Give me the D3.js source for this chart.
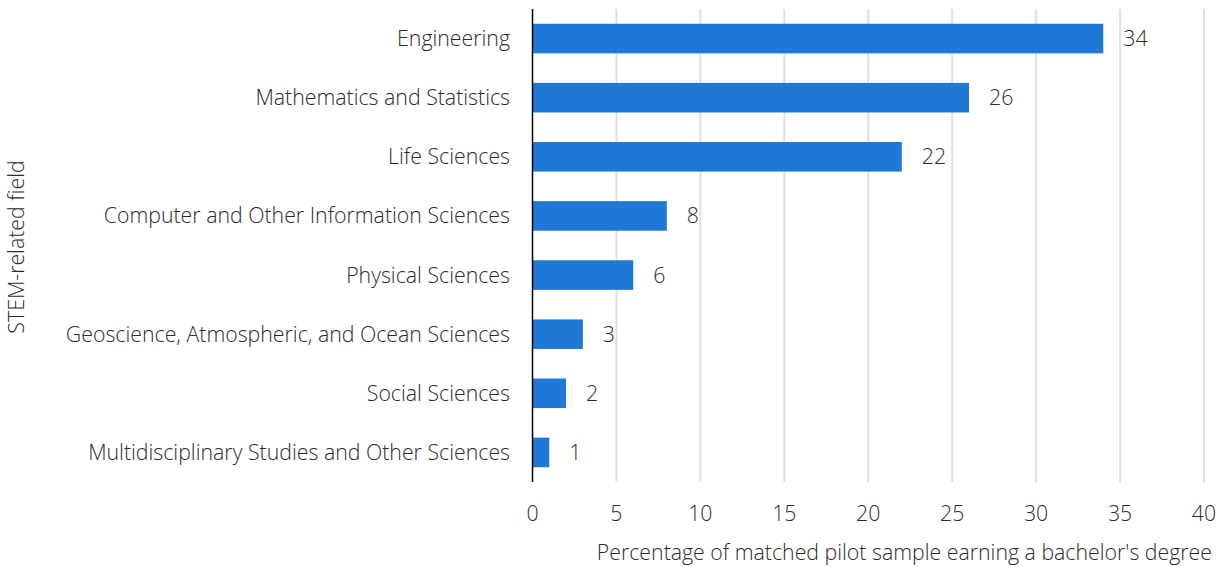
<!DOCTYPE html>
<html><head><meta charset="utf-8">
<script src="https://cdn.jsdelivr.net/npm/d3@7"></script>
<style>body{margin:0;background:#fff}text{font-family:"Open Sans",sans-serif;font-weight:300}</style>
</head><body><svg id="c" width="1226" height="567"></svg>
<script>
const categories = ["Engineering","Mathematics and Statistics","Life Sciences","Computer and Other Information Sciences","Physical Sciences","Geoscience, Atmospheric, and Ocean Sciences","Social Sciences","Multidisciplinary Studies and Other Sciences"];
const values = [34,26,22,8,6,3,2,1];
const xTicks = [0,5,10,15,20,25,30,35,40];
const xTitle = "Percentage of matched pilot sample earning a bachelor's degree";
const yTitle = "STEM-related field";

const svg = d3.select("#c");
const m = {left:532.5, right:1204, top:9, bottom:482};
const x = d3.scaleLinear().domain([0,40]).range([m.left,m.right]);
const y = d3.scaleBand().domain(categories).range([m.top,m.bottom]).paddingInner(0.5).paddingOuter(0.25);
const txt = "#2b2b2b";
const fs = 21.3;

svg.append("g").selectAll("line").data(xTicks.slice(1)).join("line")
  .attr("x1",d=>x(d)).attr("x2",d=>x(d)).attr("y1",m.top).attr("y2",m.bottom)
  .attr("stroke","#e0e0e0").attr("stroke-width",2);

svg.append("g").selectAll("rect").data(values).join("rect")
  .attr("x",x(0)).attr("y",(d,i)=>y(categories[i])).attr("width",d=>x(d)-x(0)).attr("height",y.bandwidth())
  .attr("fill","#1f77d6");

svg.append("line").attr("x1",m.left).attr("x2",m.left).attr("y1",m.top).attr("y2",m.bottom).attr("stroke","#000").attr("stroke-width",1.5);

svg.append("g").selectAll("text").data(values).join("text")
  .attr("x",d=>x(d)+20).attr("y",(d,i)=>y(categories[i])+y.bandwidth()/2).attr("dy","0.35em")
  .attr("font-size",fs).attr("fill",txt).text(d=>d);

svg.append("g").selectAll("text").data(categories).join("text")
  .attr("x",510).attr("y",d=>y(d)+y.bandwidth()/2).attr("dy","0.35em").attr("text-anchor","end")
  .attr("font-size",fs).attr("fill",txt).text(d=>d);

svg.append("g").selectAll("text").data(xTicks).join("text")
  .attr("x",d=>x(d)).attr("y",514).attr("dy","0.35em").attr("text-anchor","middle")
  .attr("font-size",fs).attr("fill",txt).text(d=>d);

svg.append("text").attr("x",1212).attr("y",553).attr("dy","0.35em").attr("text-anchor","end")
  .attr("font-size",fs).attr("fill",txt).text(xTitle);

svg.append("text").attr("transform","translate(17,247) rotate(-90)").attr("dy","0.35em").attr("text-anchor","middle")
  .attr("font-size",fs).attr("fill",txt).text(yTitle);
</script></body></html>
